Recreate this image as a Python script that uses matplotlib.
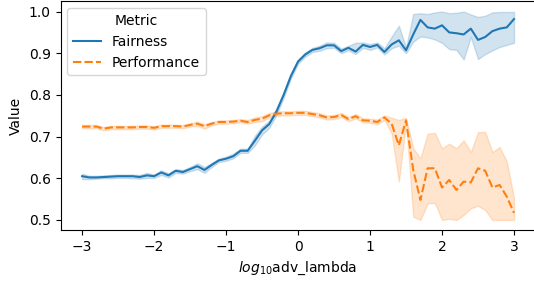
import numpy as np
import matplotlib
matplotlib.use('Agg')
import matplotlib.pyplot as plt

# log10 adv_lambda grid
log_lambda = [round(-3 + 0.1 * i, 1) for i in range(61)]

fairness = [0.605, 0.602, 0.602, 0.603, 0.604, 0.605, 0.605, 0.605, 0.603, 0.607,
            0.605, 0.614, 0.607, 0.618, 0.615, 0.622, 0.629, 0.620, 0.632, 0.643,
            0.647, 0.653, 0.666, 0.666, 0.690, 0.715, 0.730, 0.760, 0.800, 0.845,
            0.880, 0.897, 0.908, 0.912, 0.919, 0.919, 0.905, 0.913, 0.904, 0.920,
            0.915, 0.920, 0.903, 0.921, 0.931, 0.907, 0.945, 0.980, 0.962, 0.959,
            0.967, 0.950, 0.948, 0.945, 0.959, 0.932, 0.939, 0.953, 0.959, 0.962,
            0.982]
fairness_lo = [0.598, 0.598, 0.599, 0.600, 0.600, 0.601, 0.601, 0.600, 0.599, 0.601,
               0.601, 0.608, 0.602, 0.613, 0.611, 0.617, 0.622, 0.613, 0.627, 0.639,
               0.642, 0.648, 0.661, 0.661, 0.679, 0.705, 0.721, 0.752, 0.793, 0.839,
               0.875, 0.892, 0.903, 0.906, 0.912, 0.913, 0.900, 0.907, 0.898, 0.913,
               0.908, 0.914, 0.897, 0.912, 0.918, 0.900, 0.928, 0.940, 0.938, 0.933,
               0.925, 0.910, 0.908, 0.885, 0.939, 0.886, 0.898, 0.907, 0.915, 0.920,
               0.925]
fairness_hi = [0.611, 0.606, 0.606, 0.607, 0.608, 0.609, 0.609, 0.609, 0.608, 0.613,
               0.609, 0.619, 0.612, 0.622, 0.620, 0.627, 0.636, 0.627, 0.637, 0.647,
               0.652, 0.659, 0.671, 0.671, 0.702, 0.724, 0.738, 0.768, 0.807, 0.851,
               0.885, 0.902, 0.913, 0.918, 0.926, 0.925, 0.911, 0.918, 0.925, 0.926,
               0.922, 0.926, 0.912, 0.940, 0.966, 0.914, 0.994, 0.996, 0.994, 0.998,
               1.000, 0.996, 0.997, 1.000, 0.993, 0.987, 0.990, 0.998, 0.999, 0.999,
               0.999]

performance = [0.724, 0.724, 0.724, 0.719, 0.722, 0.722, 0.722, 0.722, 0.723, 0.723,
               0.721, 0.725, 0.725, 0.725, 0.724, 0.728, 0.731, 0.725, 0.731, 0.735,
               0.735, 0.736, 0.738, 0.735, 0.740, 0.743, 0.751, 0.755, 0.756, 0.756,
               0.757, 0.757, 0.754, 0.751, 0.746, 0.747, 0.752, 0.742, 0.749, 0.739,
               0.738, 0.735, 0.746, 0.731, 0.679, 0.739, 0.620, 0.548, 0.624, 0.624,
               0.578, 0.596, 0.572, 0.592, 0.590, 0.624, 0.618, 0.578, 0.584, 0.556,
               0.517]
performance_lo = [0.720, 0.720, 0.720, 0.715, 0.718, 0.718, 0.718, 0.718, 0.719, 0.719,
                  0.717, 0.721, 0.721, 0.721, 0.720, 0.724, 0.726, 0.719, 0.727, 0.731,
                  0.731, 0.732, 0.734, 0.731, 0.735, 0.737, 0.746, 0.750, 0.751, 0.751,
                  0.752, 0.752, 0.749, 0.746, 0.741, 0.742, 0.747, 0.737, 0.744, 0.734,
                  0.733, 0.730, 0.740, 0.708, 0.592, 0.733, 0.508, 0.500, 0.540, 0.541,
                  0.500, 0.503, 0.500, 0.512, 0.528, 0.534, 0.524, 0.500, 0.500, 0.500,
                  0.500]
performance_hi = [0.728, 0.728, 0.728, 0.723, 0.726, 0.726, 0.726, 0.726, 0.727, 0.727,
                  0.725, 0.729, 0.729, 0.729, 0.728, 0.732, 0.736, 0.730, 0.735, 0.739,
                  0.739, 0.740, 0.742, 0.740, 0.746, 0.749, 0.757, 0.760, 0.761, 0.761,
                  0.762, 0.762, 0.759, 0.756, 0.751, 0.752, 0.757, 0.747, 0.754, 0.744,
                  0.743, 0.741, 0.751, 0.745, 0.740, 0.745, 0.672, 0.648, 0.707, 0.709,
                  0.672, 0.683, 0.672, 0.691, 0.663, 0.711, 0.711, 0.663, 0.675, 0.640,
                  0.552]

fig = plt.figure(figsize=(5.34, 2.82), dpi=100)
# the original is cropped on the right, so the axes run past the figure edge
ax = fig.add_axes([0.1133, 0.183, 0.8897, 0.813])
ax.spines['right'].set_visible(False)

ax.fill_between(log_lambda, fairness_lo, fairness_hi, color='tab:blue', alpha=0.2)
ax.plot(log_lambda, fairness, color='tab:blue', lw=1.5, label='Fairness')

ax.fill_between(log_lambda, performance_lo, performance_hi, color='tab:orange', alpha=0.2)
ax.plot(log_lambda, performance, color='tab:orange', lw=1.5, ls=(0, (4, 1.5)),
        label='Performance')

ax.set_xlim(-3.3, 3.3)
ax.set_ylim(0.475, 1.025)
ax.set_xticks([-3, -2, -1, 0, 1, 2, 3])
ax.set_yticks([0.5, 0.6, 0.7, 0.8, 0.9, 1.0])
ax.set_xlabel(r'$log_{10}$adv_lambda')
ax.set_ylabel('Value')
ax.legend(title='Metric', loc='upper left')

fig.savefig('out.png', dpi=100)
